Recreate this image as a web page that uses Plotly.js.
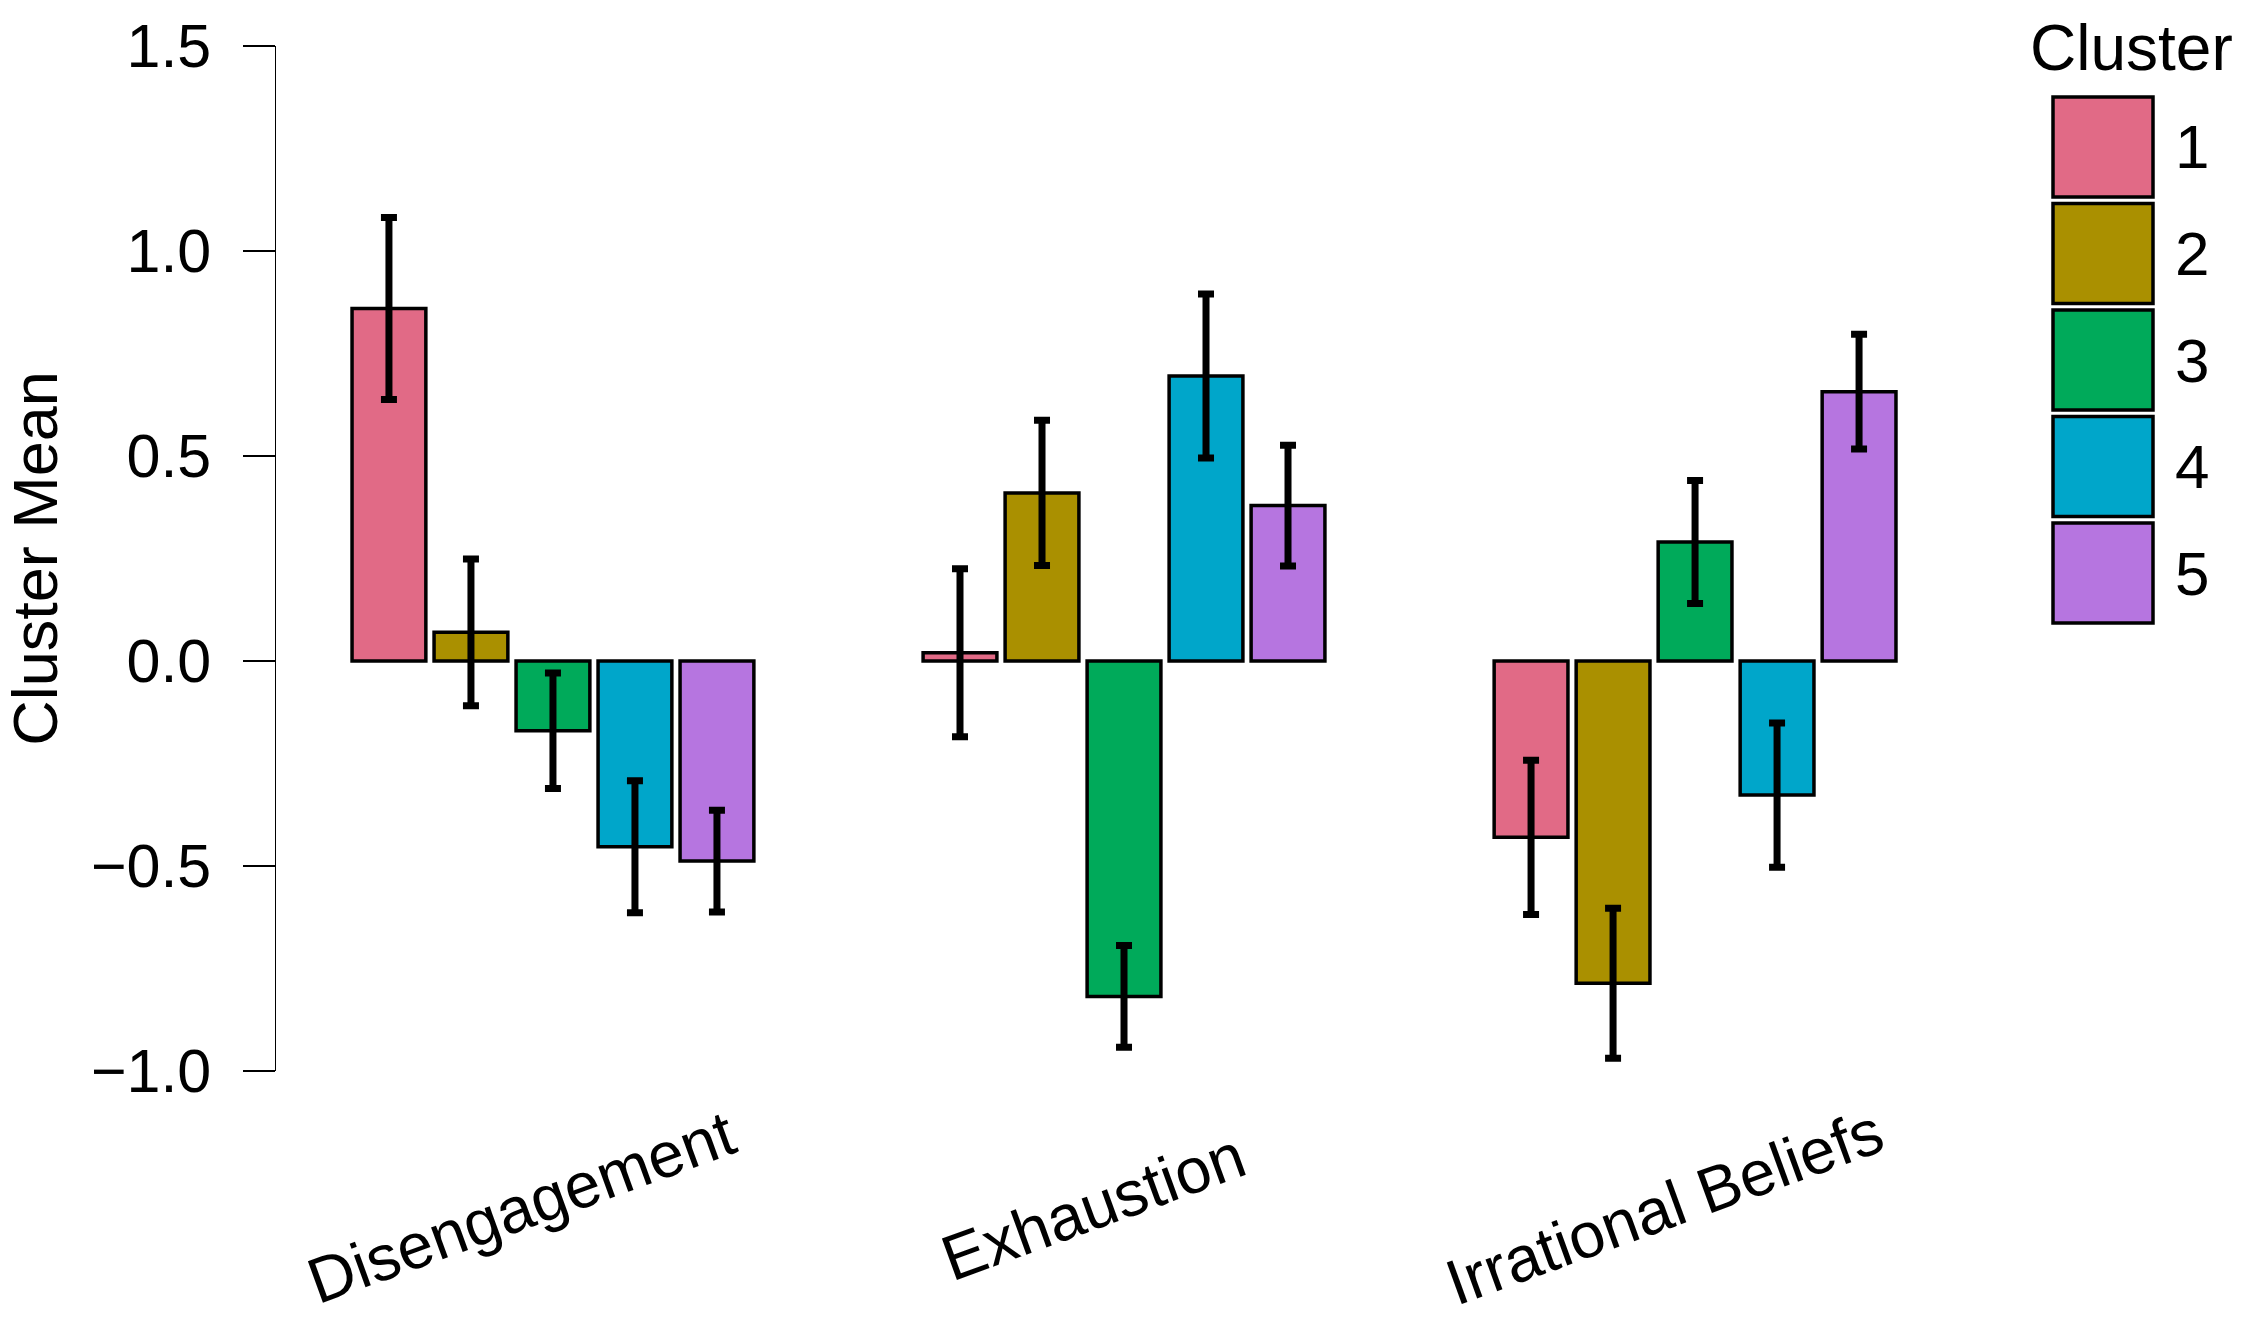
<!DOCTYPE html>
<html>
<head>
<meta charset="utf-8">
<script src="https://cdn.plot.ly/plotly-3.0.1.min.js"></script>
<style>html,body{margin:0;padding:0;background:#fff;}#chart{width:2248px;height:1319px;}</style>
</head>
<body>
<div id="chart"></div>
<script>
// ---- data ----
const categories = ["Disengagement", "Exhaustion", "Irrational Beliefs"];
const clusterNames = ["1", "2", "3", "4", "5"];
const cluster1Mean = [0.860, 0.020, -0.430];
const cluster2Mean = [0.070, 0.410, -0.786];
const cluster3Mean = [-0.170, -0.818, 0.290];
const cluster4Mean = [-0.453, 0.695, -0.327];
const cluster5Mean = [-0.488, 0.379, 0.657];
const cluster1Err = [0.222, 0.205, 0.188];
const cluster2Err = [0.179, 0.177, 0.183];
const cluster3Err = [0.141, 0.124, 0.150];
const cluster4Err = [0.161, 0.200, 0.176];
const cluster5Err = [0.124, 0.147, 0.140];
const clusterColors = ["#E16A86", "#AA9000", "#00AA5A", "#00A6CA", "#B675E0"];
const yTickVals = [-1.0, -0.5, 0.0, 0.5, 1.0, 1.5];
const yTickText = ["\u22121.0", "\u22120.5", "0.0", "0.5", "1.0", "1.5"];

const means = [cluster1Mean, cluster2Mean, cluster3Mean, cluster4Mean, cluster5Mean];
const errs = [cluster1Err, cluster2Err, cluster3Err, cluster4Err, cluster5Err];

// ---- layout geometry (pixels) ----
const W = 2248, H = 1319;
const L = 276, R = 248, T = 46, B = 248;
const PW = W - L - R, PH = H - T - B;
const px2x = p => (p - L) / PW;
const py2y = p => (H - B - p) / PH;
const FONT = "Liberation Sans, Arial, Helvetica, sans-serif";

const traces = clusterNames.map((name, i) => ({
  type: "bar",
  name: name,
  x: categories,
  y: means[i],
  marker: { color: clusterColors[i], line: { color: "#000000", width: 3.5 } },
  error_y: { type: "data", array: errs[i], visible: true, color: "#000000", thickness: 7, width: 8 },
  showlegend: false,
  hoverinfo: "x+y+name"
}));

const shapes = [];
const annotations = [];

// category labels, rotated like the reference
categories.forEach(cat => {
  annotations.push({
    xref: "x", yref: "paper", x: cat, y: py2y(1207),
    xshift: -31,
    text: cat, showarrow: false, textangle: -20,
    xanchor: "center", yanchor: "middle",
    font: { family: FONT, size: 64, color: "#000000" }
  });
});

// manual legend (large swatches like the reference)
const boxTop = 97, boxPitch = 106.5, boxH = 100;
clusterNames.forEach((name, i) => {
  const top = boxTop + i * boxPitch;
  shapes.push({
    type: "rect", xref: "paper", yref: "paper",
    x0: px2x(2053), x1: px2x(2153), y0: py2y(top + boxH), y1: py2y(top),
    fillcolor: clusterColors[i], line: { color: "#000000", width: 3.5 }
  });
  annotations.push({
    xref: "paper", yref: "paper", x: px2x(2192), y: py2y(top + boxH / 2),
    text: name, showarrow: false, xanchor: "center", yanchor: "middle",
    font: { family: FONT, size: 62, color: "#000000" }
  });
});
annotations.push({
  xref: "paper", yref: "paper", x: px2x(2131), y: py2y(48),
  text: "Cluster", showarrow: false, xanchor: "center", yanchor: "middle",
  font: { family: FONT, size: 64, color: "#000000" }
});

const layout = {
  width: W, height: H,
  margin: { l: L, r: R, t: T, b: B, pad: 0 },
  paper_bgcolor: "#ffffff", plot_bgcolor: "#ffffff",
  font: { family: FONT, size: 61, color: "#000000" },
  barmode: "group",
  bargap: 0.282,
  bargroupgap: 0.1,
  xaxis: {
    type: "category",
    range: [-0.485, 2.534],
    showline: false, showgrid: false, zeroline: false,
    ticks: "", showticklabels: false
  },
  yaxis: {
    range: [-1.0, 1.5],
    tickvals: yTickVals, ticktext: yTickText,
    showline: true, linecolor: "#000000", linewidth: 1.5,
    ticks: "outside", ticklen: 32, tickwidth: 1.5, tickcolor: "#000000",
    showgrid: false, zeroline: false,
    tickfont: { family: FONT, size: 61, color: "#000000" },
    ticklabelstandoff: 19,
    title: { text: "Cluster Mean", font: { family: FONT, size: 63, color: "#000000" }, standoff: 16 }
  },
  shapes: shapes,
  annotations: annotations
};

Plotly.newPlot("chart", traces, layout, { displayModeBar: false, staticPlot: true });
</script>
</body>
</html>
